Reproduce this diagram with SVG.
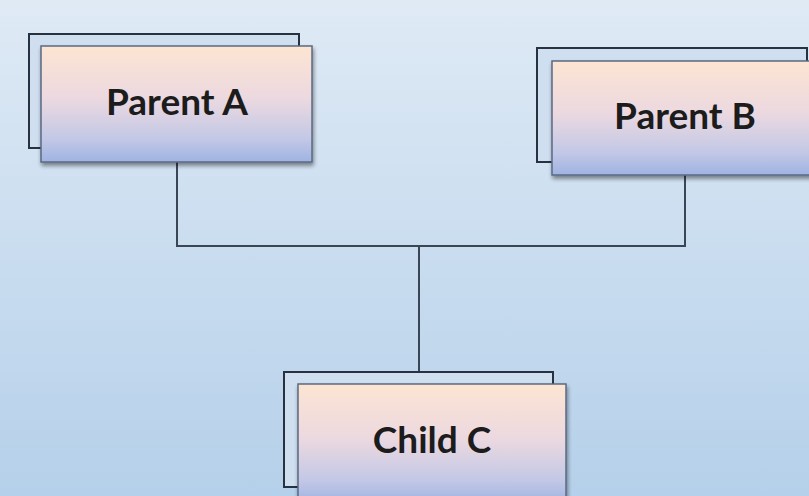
<svg xmlns="http://www.w3.org/2000/svg" width="809" height="496" viewBox="0 0 809 496">
<defs>
<linearGradient id="bg" x1="0" y1="0" x2="0" y2="1">
<stop offset="0" stop-color="#dfeaf5"/>
<stop offset="1" stop-color="#b5d0ea"/>
</linearGradient>
<linearGradient id="box" x1="0" y1="0" x2="0" y2="1">
<stop offset="0" stop-color="#fde4d2"/>
<stop offset="0.45" stop-color="#ecd9e0"/>
<stop offset="0.8" stop-color="#c3c8e6"/>
<stop offset="1" stop-color="#9fb3e2"/>
</linearGradient>
<filter id="sh" x="-10%" y="-10%" width="120%" height="130%">
<feGaussianBlur in="SourceAlpha" stdDeviation="2"/>
<feOffset dx="1" dy="3"/>
<feComponentTransfer><feFuncA type="linear" slope="0.45"/></feComponentTransfer>
<feMerge><feMergeNode/><feMergeNode in="SourceGraphic"/></feMerge>
</filter>
</defs>
<style>
.back{fill:#cfdff0;stroke:#26323f;stroke-width:2}
.front{fill:url(#box);stroke:#5a6a82;stroke-width:1.5;filter:url(#sh)}
.lbl{font-family:Lato,"Open Sans","Liberation Sans",sans-serif;font-weight:bold;font-size:37px;fill:#1c1c1c;text-anchor:middle}
.conn{fill:none;stroke:#3a4656;stroke-width:2}
</style>
<rect x="0" y="0" width="809" height="496" fill="url(#bg)"/>
<g id="connectors">
<path class="conn" d="M177,162 V246 H685 V175"/>
<path class="conn" d="M419,246 V372"/>
</g>
<g id="parentA">
<rect class="back" x="29" y="34" width="270" height="114"/>
<rect class="front" x="41" y="46" width="271" height="116"/>
<text class="lbl" x="177" y="115">Parent A</text>
</g>
<g id="parentB">
<rect class="back" x="537" y="48" width="270" height="114"/>
<rect class="front" x="552" y="61" width="270" height="114"/>
<text class="lbl" x="685" y="129">Parent B</text>
</g>
<g id="childC">
<rect class="back" x="284" y="372" width="269" height="115"/>
<rect class="front" x="298" y="384" width="268" height="120"/>
<text class="lbl" x="432" y="453">Child C</text>
</g>
</svg>
